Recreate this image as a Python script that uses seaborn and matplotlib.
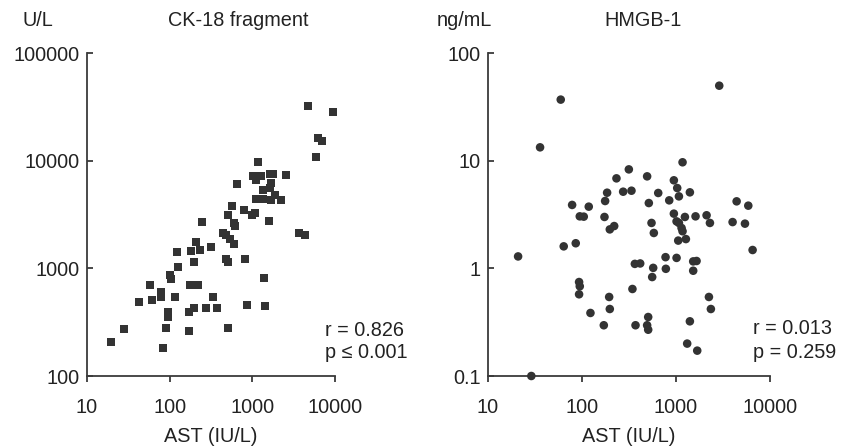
import matplotlib
matplotlib.use("Agg")
import matplotlib.pyplot as plt
import seaborn as sns
import pandas as pd

# ---------------- data ----------------
ck18_ast = [19.3, 27.8, 42.6, 58.3, 61.7, 79.3, 77.8, 82.3, 91.1, 95.4, 95.4, 100, 104.7,
            126, 115, 121.5, 170, 171, 195, 174.6, 220, 199, 183, 206, 231, 246, 277, 319,
            334, 377, 503, 475, 513, 442, 485, 532, 594, 508, 573, 594, 623, 658, 793, 991,
            1067, 822, 869, 1170, 1018, 1117, 1285, 1621, 1778, 2577, 1698, 1621, 1346,
            1862, 1117, 1346, 1698, 2243, 1384, 1435, 1574, 3665, 4295, 4710, 5835, 6225,
            6965, 9460]
ck18_val = [207, 275, 487, 695, 504, 598, 538, 181, 279, 393, 351, 873, 802,
            1021, 538, 1428, 260, 393, 428, 695, 695, 1137, 1438, 1757, 1491, 2693, 428, 1578,
            538, 428, 281, 1221, 1145, 2130, 2055, 1871, 1694, 3150, 3820, 2637, 2490, 6070,
            3456, 3105, 3265, 1230, 460, 9660, 7150, 6665, 7255, 7575, 7575, 7410, 6205, 5575,
            5300, 4830, 4405, 4405, 4343, 4343, 813, 444, 2733, 2130, 2055, 31960, 10810,
            16240, 15340, 28310]

hmgb_ast = [20.9, 28.9, 35.8, 59.4, 63.9, 85.8, 78.5, 94.7, 104.4, 118, 93.1, 94.7, 93.1,
            123, 173.4, 176.2, 185, 197.6, 220, 170.6, 194.5, 197.6, 232.6, 274, 336, 315,
            344, 365, 416, 371, 493, 514, 506, 493, 506, 549, 581, 572, 558, 647, 774, 780,
            847, 949, 1030, 1074, 949, 1014, 1074, 1146, 1174, 1056, 1274, 1014, 1174, 1244,
            1405, 1524, 1655, 1524, 1614, 1405, 1315, 1682, 2115, 2296, 2240, 2350, 2884,
            4000, 4416, 5416, 5875, 6530]
hmgb_val = [1.29, 0.1, 13.3, 36.9, 1.60, 1.71, 3.88, 3.04, 3.02, 3.74, 0.746, 0.681, 0.574,
            0.385, 3.0, 4.22, 5.04, 2.30, 2.47, 0.296, 0.542, 0.419, 6.85, 5.15, 5.26, 8.3,
            0.643, 1.10, 1.11, 0.296, 7.15, 4.04, 0.353, 0.296, 0.269, 2.64, 2.13, 1.01, 0.83,
            5.01, 1.27, 0.99, 4.28, 6.57, 5.57, 4.66, 3.22, 2.73, 2.64, 2.37, 2.21, 1.81, 1.87,
            1.25, 9.66, 3.0, 5.08, 1.16, 1.17, 0.95, 3.04, 0.322, 0.20, 0.172, 3.11, 2.64,
            0.542, 0.419, 49.7, 2.69, 4.19, 2.60, 3.82, 1.48]

x_ticks = [10, 100, 1000, 10000]
x_ticklabels = ["10", "100", "1000", "10000"]
ck18_yticks = [100, 1000, 10000, 100000]
ck18_yticklabels = ["100", "1000", "10000", "100000"]
hmgb_yticks = [0.1, 1, 10, 100]
hmgb_yticklabels = ["0.1", "1", "10", "100"]

xlabel = "AST (IU/L)"
left_title, left_unit, left_stats = "CK-18 fragment", "U/L", ["r = 0.826", "p \u2264 0.001"]
right_title, right_unit, right_stats = "HMGB-1", "ng/mL", ["r = 0.013", "p = 0.259"]

# ---------------- style ----------------
sns.set_style("white")
plt.rcParams["font.family"] = ["Liberation Sans", "DejaVu Sans"]
TXT = "#222222"
AX = "#3a3a3a"
MK = "#333333"
FS = 14.3

W, H = 851, 447
fig = plt.figure(figsize=(W / 100, H / 100), dpi=100)

def add_axes(x0, x1, y0, y1):
    return fig.add_axes([x0 / W, 1 - y1 / H, (x1 - x0) / W, (y1 - y0) / H])

ax1 = add_axes(87, 335, 53, 376)
ax2 = add_axes(488, 770, 53, 376)

df1 = pd.DataFrame({"ast": ck18_ast, "val": ck18_val})
df2 = pd.DataFrame({"ast": hmgb_ast, "val": hmgb_val})

sns.scatterplot(data=df1, x="ast", y="val", ax=ax1, marker="s", s=32, color=MK,
                edgecolor="none", clip_on=False, zorder=3)
sns.scatterplot(data=df2, x="ast", y="val", ax=ax2, marker="o", s=38, color=MK,
                edgecolor="none", clip_on=False, zorder=3)

for ax, yt, ytl, ylim in [(ax1, ck18_yticks, ck18_yticklabels, (100, 100000)),
                          (ax2, hmgb_yticks, hmgb_yticklabels, (0.1, 100))]:
    ax.set_xscale("log")
    ax.set_yscale("log")
    ax.set_xlim(10, 10000)
    ax.set_ylim(*ylim)
    ax.set_xticks(x_ticks)
    ax.set_xticklabels(x_ticklabels)
    ax.set_yticks(yt)
    ax.set_yticklabels(ytl)
    ax.minorticks_off()
    ax.set_xlabel("")
    ax.set_ylabel("")
    for s in ["top", "right"]:
        ax.spines[s].set_visible(False)
    for s in ["left", "bottom"]:
        ax.spines[s].set_color(AX)
        ax.spines[s].set_linewidth(1.3)
    ax.tick_params(axis="x", which="major", bottom=True, direction="out", length=4,
                   width=1.3, color=AX, labelsize=FS, labelcolor=TXT, pad=12)
    ax.tick_params(axis="y", which="major", left=True, direction="in", length=4,
                   width=1.3, color=AX, labelsize=FS, labelcolor=TXT, pad=5)
    ax.set_facecolor("white")

# axis labels / titles / units
fig.text(211 / W, 1 - 446 / H, xlabel, ha="center", va="bottom", fontsize=FS, color=TXT)
fig.text(629 / W, 1 - 446 / H, xlabel, ha="center", va="bottom", fontsize=FS, color=TXT)
fig.text(238 / W, 1 - 20 / H, left_title, ha="center", va="center", fontsize=FS, color=TXT)
fig.text(643 / W, 1 - 20 / H, right_title, ha="center", va="center", fontsize=FS, color=TXT)
fig.text(22 / W, 1 - 20 / H, left_unit, ha="left", va="center", fontsize=FS, color=TXT)
fig.text(437 / W, 1 - 20 / H, right_unit, ha="left", va="center", fontsize=FS, color=TXT)

fig.text(325 / W, 1 - 330 / H, left_stats[0], ha="left", va="center", fontsize=FS, color=TXT)
fig.text(325 / W, 1 - 352 / H, left_stats[1], ha="left", va="center", fontsize=FS, color=TXT)
fig.text(753 / W, 1 - 329 / H, right_stats[0], ha="left", va="center", fontsize=FS, color=TXT)
fig.text(753 / W, 1 - 352 / H, right_stats[1], ha="left", va="center", fontsize=FS, color=TXT)

fig.savefig("out.png", dpi=100, facecolor="white")
